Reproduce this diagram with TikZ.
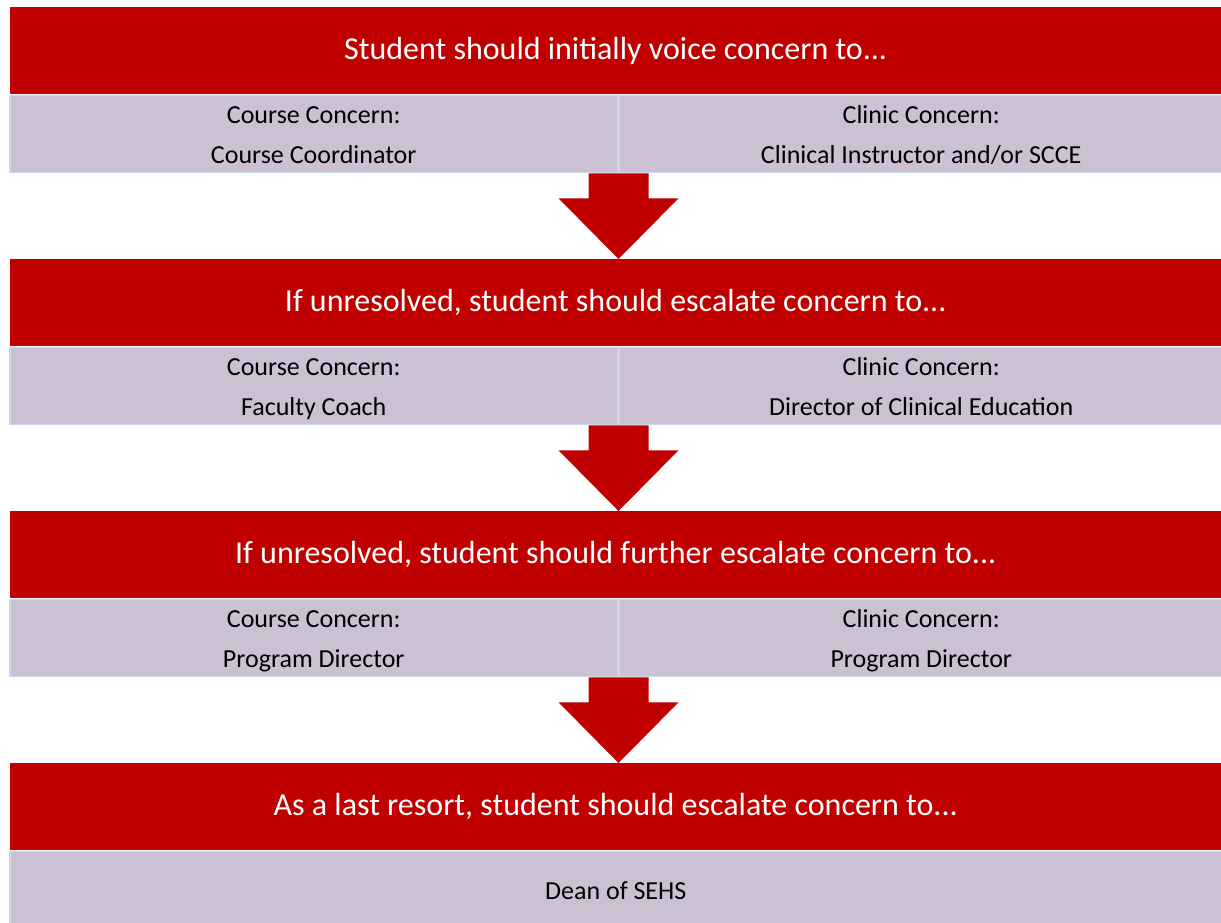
\documentclass[tikz,border=0pt]{standalone}
\usepackage{fontspec}
\setmainfont{Carlito}
\usepackage{xcolor}
\usetikzlibrary{positioning}
\usetikzlibrary{calc}
\definecolor{concernred}{RGB}{192,0,0}
\definecolor{lilac}{RGB}{204,192,211}
\definecolor{lilacedge}{RGB}{205,214,234}
\newcommand\concernline[1]{\rule{0pt}{22.5pt}\vphantom{Cly}#1}
\tikzstyle{stage}=[fill=concernred,text=white,inner sep=0pt,minimum width=1211pt,minimum height=87pt,
  font=\fontsize{32}{38}\selectfont]
\tikzstyle{contact}=[fill=lilac,draw=lilacedge,line width=1.5pt,inner sep=0pt,minimum height=77pt,
  align=center,font=\fontsize{26}{40}\selectfont]
\newcommand\concernarrow[2]{%
  \fill[concernred] ($(#1)+(-30,0)$) -- ++(0,25) -- ++(-30,0) -- (#2)
    -- ($(#1)+(60,25)$) -- ++(-30,0) -- ($(#1)+(30,0)$) -- cycle;}

\begin{document}
\begin{tikzpicture}[x=1pt,y=-1pt]
	\useasboundingbox (0,0) rectangle (1221,922);
	% first step
	\node[stage,anchor=north west] (s1) at (10,7) {\concernline{Student should initially voice concern to...}};
	\node[contact,minimum width=608pt,anchor=north west] (l1) at (9,94.75) {\concernline{Course Concern:}\\\concernline{Course Coordinator}};
	\node[contact,minimum width=604pt,right=0pt of l1] (r1) {\concernline{Clinic Concern:}\\\concernline{Clinical Instructor and/or SCCE}};
	% second step
	\node[stage,anchor=north west] (s2) at (10,259) {\concernline{If unresolved, student should escalate concern to...}};
	\node[contact,minimum width=608pt,anchor=north west] (l2) at (9,346.75) {\concernline{Course Concern:}\\\concernline{Faculty Coach}};
	\node[contact,minimum width=604pt,right=0pt of l2] (r2) {\concernline{Clinic Concern:}\\\concernline{Director of Clinical Education}};
	% third step
	\node[stage,anchor=north west] (s3) at (10,511) {\concernline{If unresolved, student should further escalate concern to...}};
	\node[contact,minimum width=608pt,anchor=north west] (l3) at (9,598.75) {\concernline{Course Concern:}\\\concernline{Program Director}};
	\node[contact,minimum width=604pt,right=0pt of l3] (r3) {\concernline{Clinic Concern:}\\\concernline{Program Director}};
	% last resort
	\node[stage,anchor=north west] (s4) at (10,763) {\concernline{As a last resort, student should escalate concern to...}};
	\node[contact,minimum width=1212pt,anchor=north west] (d4) at (9,850.75) {\concernline{Dean of SEHS}};

	\concernarrow{l1.south east}{l1.south east |- s2.north}
	\concernarrow{l2.south east}{l2.south east |- s3.north}
	\concernarrow{l3.south east}{l3.south east |- s4.north}
\end{tikzpicture}
\end{document}
